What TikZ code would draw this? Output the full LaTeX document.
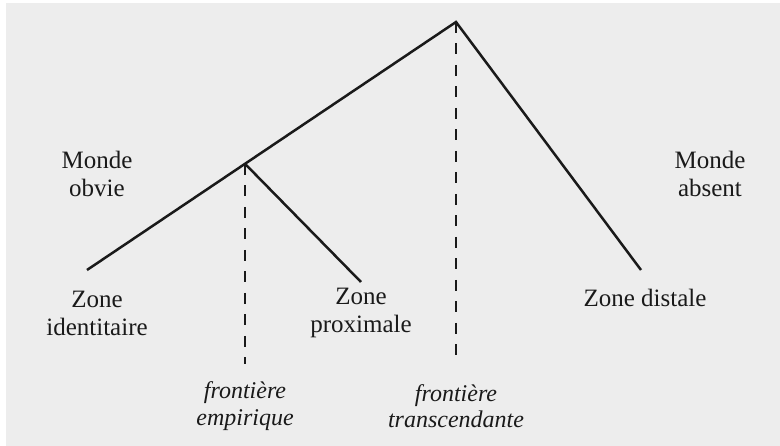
\documentclass[tikz,border=0pt]{standalone}
\usepackage{fontspec}
\setmainfont{Liberation Serif}
\definecolor{ink}{HTML}{1A1A1A}
\definecolor{bg}{HTML}{EDEDED}
\begin{document}
\begin{tikzpicture}[x=1pt,y=-1pt,
  branch/.style={line width=2.5pt, draw=ink, line join=miter},
  border/.style={line width=2.5pt, draw=ink, dash pattern=on 11pt off 10.5pt},
  lbl/.style={align=center, text=ink, font=\fontsize{25}{28}\selectfont, inner sep=0pt},
  ilbl/.style={align=center, text=ink, font=\fontsize{24}{26.5}\selectfont\itshape, inner sep=0pt}]
\useasboundingbox (0,0) rectangle (780,446);
\fill[white] (0,0) rectangle (780,446);
\fill[bg] (6,3) rectangle (780,446);

\coordinate (apex) at (456,22);
\coordinate (mid) at (245,163.8);
\coordinate (idend) at (87,270);
\coordinate (proxend) at (361,282);
\coordinate (distend) at (641,270);
\coordinate (empend) at (245,364);
\coordinate (trend) at (456,364);

\draw[branch] (idend) -- (apex) -- (distend);
\draw[branch] (mid) -- (proxend);
\draw[border] (mid) -- (empend);
\draw[border] (apex) -- (trend);

\node[lbl] (obvie) at (97,174) {Monde\\obvie};
\node[lbl] (absent) at (710,174) {Monde\\absent};
\node[lbl] (ident) at (97,313) {Zone\\identitaire};
\node[lbl] (prox) at (361,313) {Zone\\proximale};
\node[lbl] (dist) at (645,298) {Zone distale};
\node[ilbl] (emp) at (245,406) {frontière\\empirique};
\node[ilbl] (trans) at (456,406) {frontière\\transcendante};
\end{tikzpicture}
\end{document}
